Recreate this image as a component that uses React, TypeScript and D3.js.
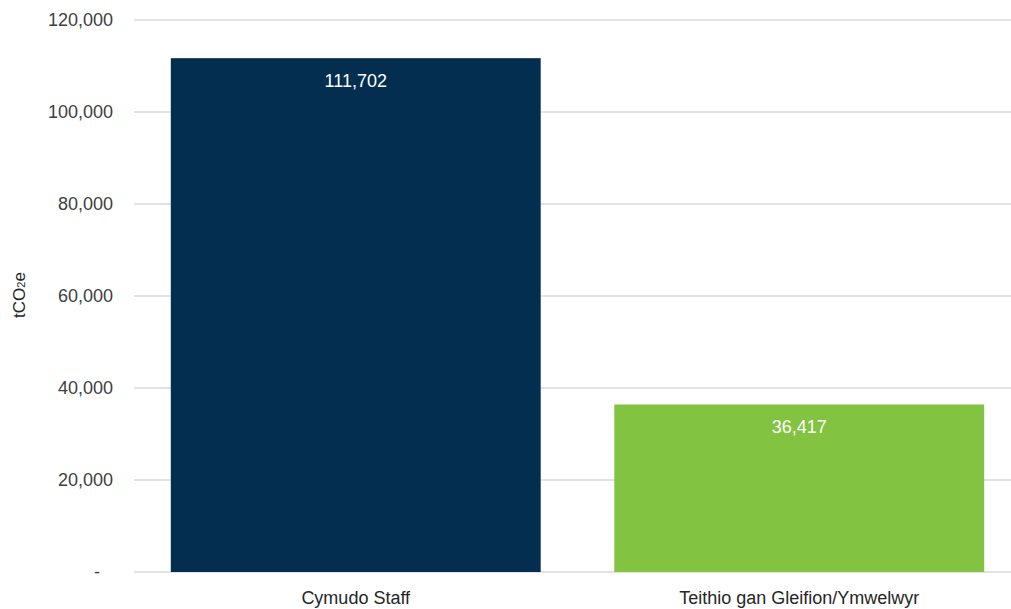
import React from "react";
import * as d3 from "d3";

const categories = ["Cymudo Staff", "Teithio gan Gleifion/Ymwelwyr"];
const values = [111702, 36417];
const barColors = ["#042e4f", "#82c341"];
const yTicks = [0, 20000, 40000, 60000, 80000, 100000, 120000];
const yTitle = "tCO";

const W = 1011;
const H = 609;
const left = 134;
const right = 1021;
const top = 20;
const bottom = 572;

export default function App() {
  const x = d3
    .scaleBand<string>()
    .domain(categories)
    .range([left, right])
    .paddingInner(0.166)
    .paddingOuter(0.083);
  const y = d3.scaleLinear().domain([0, 120000]).range([bottom, top]);
  const fmt = d3.format(",");
  const font = "Liberation Sans, Arial, sans-serif";

  return (
    <svg
      width={W}
      height={H}
      style={{ position: "absolute", left: 0, top: 0, fontFamily: font }}
    >
      <rect width={W} height={H} fill="#fff" />
      {yTicks.map((t) => (
        <g key={t}>
          <line x1={left} x2={right} y1={y(t)} y2={y(t)} stroke="#d9d9d9" strokeWidth={1.3} />
          <text
            x={t === 0 ? 100 : 113}
            y={y(t)}
            dy="0.35em"
            textAnchor="end"
            fontSize={18}
            fill="#404040"
          >
            {t === 0 ? "-" : fmt(t)}
          </text>
        </g>
      ))}
      {categories.map((c, i) => (
        <g key={c}>
          <rect
            x={x(c)}
            y={y(values[i])}
            width={x.bandwidth()}
            height={bottom - y(values[i])}
            fill={barColors[i]}
          />
          <text
            x={(x(c) as number) + x.bandwidth() / 2}
            y={y(values[i]) + 29}
            textAnchor="middle"
            fontSize={18}
            fill="#ffffff"
          >
            {fmt(values[i])}
          </text>
          <text
            x={(x(c) as number) + x.bandwidth() / 2}
            y={604}
            textAnchor="middle"
            fontSize={18}
            fill="#262626"
          >
            {c}
          </text>
        </g>
      ))}
      <text
        transform={`translate(25, 295) rotate(-90)`}
        textAnchor="middle"
        fontSize={17}
        fill="#262626"
      >
        {yTitle}
        <tspan fontSize={11}>2</tspan>
        <tspan>e</tspan>
      </text>
    </svg>
  );
}
